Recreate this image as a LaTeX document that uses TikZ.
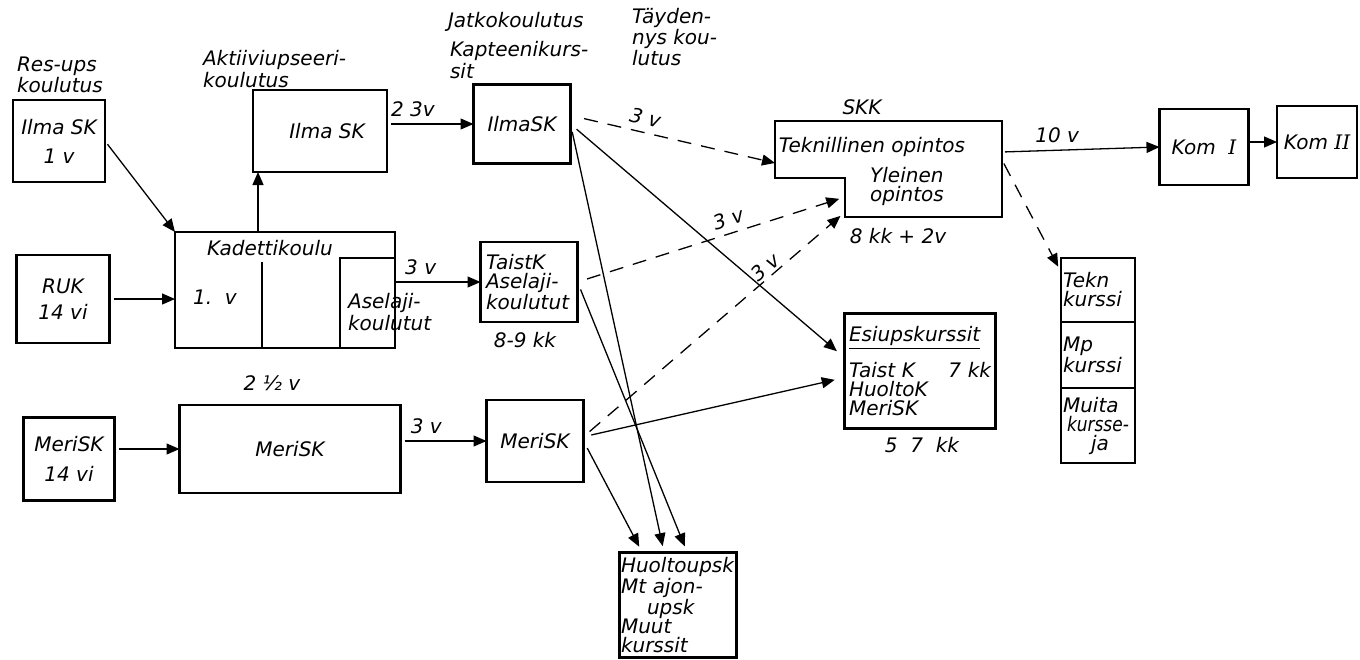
\documentclass[tikz,border=0pt]{standalone}
\usepackage{fontspec}
\setmainfont{DejaVu Sans}[ItalicFont={DejaVu Sans Oblique}]
\newfontfamily\romfont{DejaVu Serif}
\usetikzlibrary{arrows.meta,positioning}

\begin{document}
\begin{tikzpicture}[x=0.5pt, y=-0.5pt,
  font=\itshape\fontsize{10}{9.5}\selectfont,
  >={Triangle[length=6.5pt,width=5.5pt]},
  viiva/.style={line width=1.1pt},
  box/.style={draw, viiva, inner sep=2pt, outer sep=0pt},
  arr/.style={->, line width=0.65pt},
  dasharr/.style={->, line width=0.65pt, dash pattern=on 7pt off 5pt}]
\useasboundingbox (0,0) rectangle (1360,659);
%\draw[red] (0,0) rectangle (1360,659);

% vasen sarake
\node[anchor=west, align=left] (resups) at (10,75) {Res-ups\\koulutus};
\node[box, minimum width=46pt, minimum height=41pt, align=center] (resilma) at (59,141) {Ilma SK\\[5pt]1 v};
\node[box, minimum width=46.5pt, minimum height=44pt, align=center] (ruk) at (63,299) {RUK\\[3.5pt]14 vi};
\node[box, minimum width=45.5pt, minimum height=41.5pt, align=center] (merivaki) at (69,459) {MeriSK\\[5.5pt]14 vi};

% kadettikoulu ja aktiiviupseerit
\node[anchor=west, align=left] (aktiivi) at (196,69) {Aktiiviupseeri-\\koulutus};
\node[box, minimum width=67pt, minimum height=41pt] (aktilma) at (320,131) {\hspace*{7pt}Ilma SK};
\node[box, minimum width=110pt, minimum height=58pt] (kadetti) at (285,290) {};
\draw[viiva] (262,262) -- (262,348);
\draw[viiva] (340,348) -- (340,258) -- (395,258);
\node (kadteksti) at (270,248) {Kadettikoulu};
\node (ekavuosi) at (215,297) {1.\ \ v};
\node[anchor=west, align=left] (aselaji) at (341,312) {Aselaji-\\koulutut};
\node (puolivuotta) at (272,383) {2 ½ v};
\node[box, minimum width=110.5pt, minimum height=44pt] (merikoulu) at (290,449) {MeriSK};

% jatkokoulutus
\node[anchor=west] (jatko) at (441,22) {Jatkokoulutus};
\node[anchor=west, align=left] (kapt) at (443,60) {Kapteenikurs-\\sit};
\node[anchor=west, align=left] (taydennys) at (625,37) {Täyden-\\nys kou-\\lutus};
\node[box, minimum width=48.5pt, minimum height=39.5pt] (jatkilma) at (522,124) {IlmaSK};
\node[box, minimum width=48.5pt, minimum height=40pt, text width=43pt, align=left] (taist) at (529,282) {TaistK\\Aselaji-\\koulutut};
\node (taistaika) at (525,340) {8-9 kk};
\node[box, minimum width=48.5pt, minimum height=41pt] (merijatko) at (535,441) {MeriSK};
\node[box, minimum width=58.5pt, minimum height=52.5pt, text width=57pt, inner sep=0.75pt, align=left] (huolto) at (678,605) {Huoltoupsk\\Mt ajon-\\\hspace*{1.3em}upsk\\Muut\\kurssit};

% SKK
\draw[viiva] (775,121) -- (1002,121) -- (1002,217) -- (845,217) -- (845,178) -- (775,178) -- cycle;
\node (skk) at (862,107) {SKK};
\node (tekop) at (872,147) {Teknillinen opintos};
\node[align=left] (ylop) at (907,186) {Yleinen\\opintos};
\node (skkaika) at (898,236) {8 kk + 2v};
\coordinate (skktek) at (775,163);
\coordinate (skkyl1) at (845,197);
\coordinate (skkyl2) at (845,212);
\coordinate (skkulos) at (1002,152);
\coordinate (skkalas) at (1002,160);

\node[box, minimum width=75.5pt, minimum height=57.5pt, text width=71pt, align=left] (esiup) at (920,371) {\underline{Esiupskurssit}\\[5.5pt]Taist K\hspace{0pt plus 1fill}7 kk\\HuoltoK\\MeriSK};
\node (esiupaika) at (922,445) {5 \ 7 \ kk};

\node[box, minimum width=44.5pt, minimum height=38pt] (kom1) at (1204,147) {Kom\ \ {\romfont I}};
\node[box, minimum width=40pt, minimum height=36pt] (kom2) at (1317,142) {Kom {\romfont II}};

\node[box, minimum width=37pt, minimum height=32pt, text width=35pt, inner sep=1pt, align=left] (tekn) at (1098,290) {Tekn\\kurssi};
\node[box, minimum width=37pt, minimum height=33pt, text width=35pt, inner sep=1pt, align=left, below=0pt of tekn] (mp) {Mp\\kurssi};
\node[box, minimum width=37pt, minimum height=37.5pt, text width=35pt, inner sep=1pt, align=left, below=0pt of mp] (muita) {Muita\\\hspace*{2pt}\scalebox{0.85}[1]{kursse-}\\\hspace*{1.4em}ja};

% nuolet
\coordinate (ylos) at (258,232);
\coordinate (hin1) at (642,552);
\coordinate (hin2) at (664,552);
\coordinate (hin3) at (687,552);
\draw[arr, shorten <=2pt] (resilma.east) -- (kadetti.north west);
\draw[arr, shorten <=2pt] (ruk.east) -- (ruk.east -| kadetti.west);
\draw[arr] (ylos) -- (ylos |- aktilma.south);
\draw[arr, shorten <=2pt] (aktilma.east |- jatkilma.west) -- node[above, pos=0.3] (v23) {2 3v} (jatkilma.west);
\draw[arr] (kadetti.east |- taist.west) -- node[above, pos=0.3] (vtaist) {3 v} (taist.west);
\draw[arr, shorten <=2pt] (merivaki.east |- merikoulu.west) -- (merikoulu.west);
\draw[arr, shorten <=2pt] (merikoulu.east |- merijatko.west) -- node[above, pos=0.3] (vmeri) {3 v} (merijatko.west);

\draw[dasharr, shorten <=7pt] (jatkilma.10) -- node[above, sloped, pos=0.35] (vilma) {3 v} (skktek);
\draw[dasharr, shorten <=5pt, shorten >=3pt] (taist.east) -- node[above, sloped, pos=0.58] (vtaist2) {3 v} (skkyl1);
\draw[dasharr, shorten <=4pt, shorten >=3pt] (merijatko.5) -- node[above, sloped, pos=0.72, inner sep=1pt] (vmeri2) {3 v} (skkyl2);

\draw[arr, shorten <=4pt, shorten >=5pt] (jatkilma.east) -- (esiup.170);
\draw[arr, shorten <=4pt, shorten >=5pt] (merijatko.5) -- (esiup.185);
\draw[arr, shorten <=4pt, shorten >=3pt] (jatkilma.east) -- (hin2);
\draw[arr, shorten <=4pt, shorten >=3pt] (taist.east) -- (hin3);
\draw[arr, shorten <=4pt, shorten >=3pt] (merijatko.east) -- (hin1);

\draw[arr, shorten <=1.5pt] (skkulos) -- node[above, pos=0.35] (vskk) {10 v} (kom1.west);
\draw[arr] (kom2.west -| kom1.east) -- (kom2.west);
\draw[dasharr, shorten <=2pt, shorten >=3pt] (skkalas) -- (tekn.154);
\end{tikzpicture}
\end{document}
